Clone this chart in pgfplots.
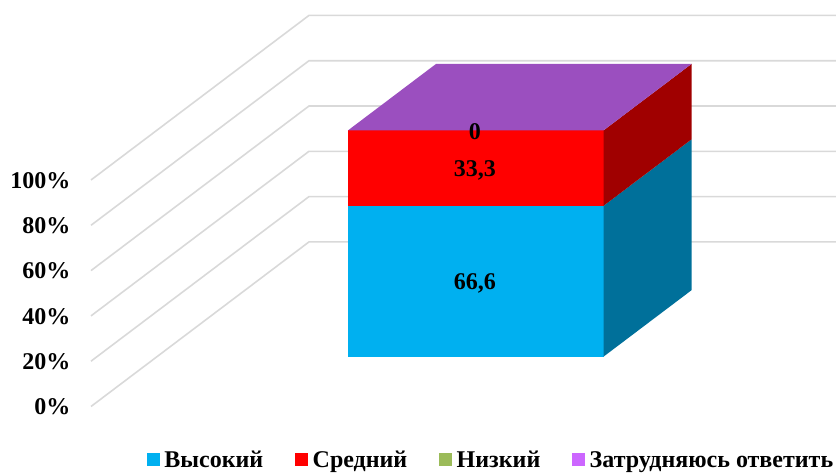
\documentclass[border=0pt]{standalone}
\usepackage{fontspec}
\setmainfont{Liberation Serif}
\usepackage{pgfplots}
\pgfplotsset{compat=1.18}
\definecolor{cblue}{HTML}{00B0F0}
\definecolor{cbluedark}{HTML}{00709A}
\definecolor{cred}{HTML}{FF0000}
\definecolor{creddark}{HTML}{A00000}
\definecolor{cgreen}{HTML}{9BBB59}
\definecolor{cpurple}{HTML}{CC66FF}
\definecolor{cpurpletop}{HTML}{9B4FBF}
\definecolor{cgrid}{HTML}{D9D9D9}
\begin{document}
\begin{tikzpicture}
\begin{axis}[
    x={(1pt,0pt)}, y={(1pt,0.755pt)}, z={(0pt,2.265pt)},
    xmin=0, xmax=527, ymin=0, ymax=218, zmin=0, zmax=100,
    clip=false,
    axis line style={draw=none},
    tick style={draw=none},
    xtick=\empty, ytick=\empty,
    ztick={0,20,40,60,80,100},
    zticklabels={0\%,20\%,40\%,60\%,80\%,100\%},
    z tick label style={font=\fontsize{24}{26}\selectfont\bfseries, anchor=east, xshift=-17pt, yshift=-0.5pt},
    legend columns=4,
    legend cell align=left,
    legend image code/.code={\fill[#1] (0pt,-5pt) rectangle (12pt,7pt); \path (15pt,0pt);},
    legend style={
        at={(axis cs:56,0,-23.6)}, anchor=west,
        draw=none, fill=none, inner sep=0pt, outer sep=0pt,
        font=\fontsize{24}{26}\selectfont\bfseries,
        /tikz/every even column/.append style={column sep=30pt},
    },
]
% линии сетки
\addplot3[forget plot, cgrid, line width=1.6pt] coordinates {(0,0,0) (0,218,0) (527,218,0)};
\addplot3[forget plot, cgrid, line width=1.6pt] coordinates {(0,0,20) (0,218,20) (527,218,20)};
\addplot3[forget plot, cgrid, line width=1.6pt] coordinates {(0,0,40) (0,218,40) (527,218,40)};
\addplot3[forget plot, cgrid, line width=1.6pt] coordinates {(0,0,60) (0,218,60) (527,218,60)};
\addplot3[forget plot, cgrid, line width=1.6pt] coordinates {(0,0,80) (0,218,80) (527,218,80)};
\addplot3[forget plot, cgrid, line width=1.6pt] coordinates {(0,0,100) (0,218,100) (527,218,100)};

% Высокий
\addplot3[forget plot, fill=cblue, draw=none] coordinates {(191,66,0) (446.5,66,0) (446.5,66,66.6) (191,66,66.6)};
\addplot3[forget plot, fill=cbluedark, draw=none] coordinates {(446.5,66,0) (446.5,154,0) (446.5,154,66.6) (446.5,66,66.6)};
% Средний
\addplot3[forget plot, fill=cred, draw=none] coordinates {(191,66,66.6) (446.5,66,66.6) (446.5,66,99.9) (191,66,99.9)};
\addplot3[forget plot, fill=creddark, draw=none] coordinates {(446.5,66,66.6) (446.5,154,66.6) (446.5,154,99.9) (446.5,66,99.9)};
% Низкий и Затрудняюсь: нулевая высота, видна верхняя грань
\addplot3[forget plot, fill=cpurpletop, draw=none] coordinates {(191,66,99.9) (446.5,66,99.9) (446.5,154,99.9) (191,154,99.9)};

\addlegendimage{cblue}
\addlegendentry{Высокий}
\addlegendimage{cred}
\addlegendentry{Средний}
\addlegendimage{cgreen}
\addlegendentry{Низкий}
\addlegendimage{cpurple}
\addlegendentry{Затрудняюсь ответить}

\node[font=\fontsize{24}{26}\selectfont\bfseries, xshift=-1pt, yshift=-2pt] at (axis cs:318.75,66,33.3) {66,6};
\node[font=\fontsize{24}{26}\selectfont\bfseries, xshift=-1pt, yshift=-2pt] at (axis cs:318.75,66,83.25) {33,3};
\node[font=\fontsize{24}{26}\selectfont\bfseries, xshift=-1pt, yshift=-1pt] at (axis cs:318.75,66,99.9) {0};

\coordinate (o) at (axis cs:0,0,0);
\end{axis}
\pgfresetboundingbox
\useasboundingbox ([shift={(-91pt,-66.5pt)}]o) rectangle ++(836pt,473pt);
\end{tikzpicture}
\end{document}
